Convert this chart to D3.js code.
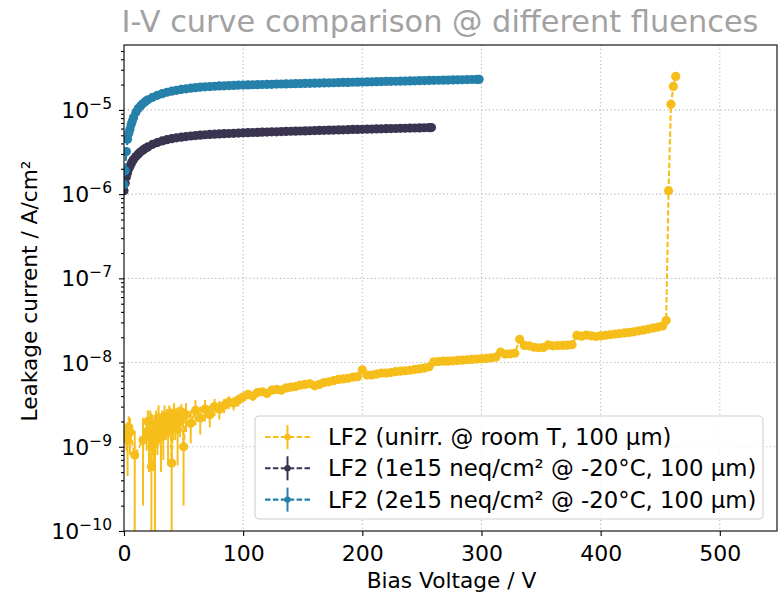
<!DOCTYPE html>
<html>
<head>
<meta charset="utf-8">
<script src="https://cdn.jsdelivr.net/npm/d3@7"></script>
<style>
  body { margin: 0; background: #fff; }
  text { font-family: "DejaVu Sans", sans-serif; }
</style>
</head>
<body>
<div class="chart"></div>
<script>
// LF2 unirradiated, room T  (current in 1e-9 A/cm2)
var unirrV = [2, 3, 4, 5, 9, 16,
  19, 20, 21, 22, 23, 24, 25, 26, 27, 28,
  29, 30, 31, 32, 33, 34, 35, 36, 37, 38,
  39, 40, 41, 42, 43, 44, 45, 46, 47, 48,
  49, 50,
  52, 56, 60, 64, 68, 72, 76, 80, 84, 88,
  92, 96, 100, 104, 108, 112, 116, 120, 124, 128,
  132, 136, 140, 144, 148, 152, 156, 160, 164, 168,
  172, 176, 180, 184, 188, 192, 196, 200, 204, 208,
  212, 216, 220, 224, 228, 232, 236, 240, 244, 248,
  252, 256, 260, 264, 268, 272, 276, 280, 284, 288,
  292, 296, 300, 304, 308, 312, 316, 320, 324, 328,
  332, 336, 340, 344, 348, 352, 356, 360, 364, 368,
  372, 376, 380, 384, 388, 392, 396, 400, 404, 408,
  412, 416, 420, 424, 428, 432, 436, 440, 444, 448,
  452, 455, 457, 459, 461, 463];
var unirrI = [1.4, 1.2, 1.7, 1.5, 0.80, 1.2,
  1.5, 2.0, 1.4, 1.8, 0.58, 1.6, 1.3, 1.1, 1.9, 1.5,
  2.2, 1.7, 1.3, 2.0, 1.6, 2.3, 1.8, 2.1, 1.5, 2.4,
  2.1, 0.64, 1.9, 2.5, 1.8, 2.2, 1.6, 2.4, 2.0, 2.6,
  2.3, 1.0,
  2.4, 1.9, 2.7, 2.2, 2.8, 2.4, 3.0, 2.8, 3.1, 3.4,
  3.3, 3.6, 3.9, 4.2, 4.0, 4.4, 4.5, 4.3, 4.7, 4.8,
  4.7, 5.0, 5.1, 5.2, 5.4, 5.5, 5.6, 5.3, 5.5, 5.8,
  5.9, 6.1, 6.3, 6.4, 6.5, 6.7, 6.8, 8.2, 7.1, 7.1,
  7.3, 7.5, 7.5, 7.6, 7.8, 7.9, 8.0, 8.1, 8.3, 8.4,
  8.6, 8.9, 10.2, 10.3, 10.4, 10.4, 10.5, 10.6, 10.7, 10.8,
  10.9, 11.0, 11.1, 11.2, 11.4, 11.6, 13.3, 12.6, 12.7, 12.9,
  18.9, 16.0, 15.8, 15.2, 15.0, 15.1, 16.2, 15.8, 15.9, 16.0,
  16.1, 16.3, 21.0, 20.6, 21.2, 20.8, 20.4, 20.7, 21.1, 21.4,
  21.8, 22.1, 22.5, 22.8, 23.2, 23.8, 24.3, 25.0, 25.7, 26.4,
  27.2, 31.5, 1100, 11700, 19000, 25000];
// error bars, only the noisy start has visible ones
var unirrErr = [0.5, 0.75, 0.6, 0.7, 0.75, 1.0,
  0.6, 0.7, 0.9, 0.9, 1.9, 0.8, 0.7, 1.3, 0.8, 0.7,
  0.9, 0.6, 0.8, 0.7, 0.9, 0.8, 0.6, 0.7, 0.9, 0.7,
  0.8, 0.62, 0.7, 0.8, 0.6, 0.7, 1.0, 0.6, 0.7, 0.6,
  0.5, 0.8,
  0.9, 0.8, 0.9, 0.8, 0.8, 0.7, 0.7, 0.7, 0.6, 0.6,
  0.6, 0.6, 0.5, 0.5, 0.5, 0.5, 0.4, 0.4, 0.4, 0.4,
  0.4];

// LF2 1e15 neq/cm2 @ -20C  (current in 1e-6 A/cm2)
var f1V = [0, 1, 2, 3, 4, 5, 6, 7, 8, 10, 12, 14, 16, 18, 20,
  24, 28, 32, 36, 40, 44, 48, 52, 56, 60,
  64, 68, 72, 76, 80, 84, 88, 92, 96, 100,
  104, 108, 112, 116, 120, 124, 128, 132, 136, 140,
  144, 148, 152, 156, 160, 164, 168, 172, 176, 180,
  184, 188, 192, 196, 200, 204, 208, 212, 216, 220,
  224, 228, 232, 236, 240, 244, 248, 252, 256, 258];
var f1I = [1.1, 1.35, 1.6, 1.8, 2.0, 2.15, 2.3, 2.45, 2.58, 2.8, 3.0, 3.18, 3.35, 3.5, 3.64,
  3.9, 4.1, 4.28, 4.43, 4.55, 4.66, 4.75, 4.83, 4.9, 4.96,
  5.02, 5.07, 5.11, 5.15, 5.19, 5.22, 5.25, 5.28, 5.31, 5.34,
  5.37, 5.39, 5.41, 5.44, 5.46, 5.49, 5.5, 5.53, 5.55, 5.58,
  5.6, 5.62, 5.63, 5.66, 5.69, 5.71, 5.72, 5.75, 5.77, 5.79,
  5.81, 5.83, 5.86, 5.87, 5.89, 5.91, 5.93, 5.95, 5.97, 5.99,
  6.01, 6.02, 6.04, 6.06, 6.08, 6.1, 6.12, 6.14, 6.16, 6.17];

// LF2 2e15 neq/cm2 @ -20C  (current in 1e-6 A/cm2)
var f2V = [0, 1, 2, 3, 4, 5, 6, 7, 8, 10, 12, 14, 16, 18, 20,
  24, 28, 32, 36, 40, 44, 48, 52, 56, 60,
  64, 68, 72, 76, 80, 84, 88, 92, 96, 100,
  104, 108, 112, 116, 120, 124, 128, 132, 136, 140,
  144, 148, 152, 156, 160, 164, 168, 172, 176, 180,
  184, 188, 192, 196, 200, 204, 208, 212, 216, 220,
  224, 228, 232, 236, 240, 244, 248, 252, 256, 260,
  264, 268, 272, 276, 280, 284, 288, 292, 296, 298];
var f2I = [1.3, 1.9, 3.2, 4.5, 5.3, 5.9, 6.7, 7.4, 8.1, 9.4, 10.4, 11.2, 11.9, 12.6, 13.2,
  14.1, 14.9, 15.6, 16.2, 16.7, 17.1, 17.5, 17.8, 18.1, 18.35,
  18.6, 18.8, 18.95, 19.1, 19.25, 19.35, 19.45, 19.55, 19.65, 19.75,
  19.82, 19.9, 19.96, 20.05, 20.1, 20.16, 20.25, 20.3, 20.36, 20.45,
  20.5, 20.56, 20.64, 20.7, 20.78, 20.83, 20.9, 20.98, 21.03, 21.1,
  21.18, 21.23, 21.3, 21.38, 21.44, 21.5, 21.56, 21.64, 21.7, 21.78,
  21.83, 21.9, 21.97, 22.03, 22.1, 22.18, 22.23, 22.3, 22.38, 22.44,
  22.5, 22.56, 22.64, 22.7, 22.78, 22.83, 22.9, 22.97, 23.04, 23.1];

var seriesNames = ["LF2 (unirr. @ room T, 100 µm)",
  "LF2 (1e15 neq/cm² @ -20°C, 100 µm)",
  "LF2 (2e15 neq/cm² @ -20°C, 100 µm)"];
var seriesColors = ["#f6be1a", "#3a3450", "#2580aa"];
var xTicks = [0, 100, 200, 300, 400, 500];
var yDecades = [-10, -9, -8, -7, -6, -5];

var margin = {top: 45, right: 1, bottom: 62, left: 124},
  width = 778 - margin.left - margin.right,
  height = 593 - margin.top - margin.bottom;
var fs = 22;

var root = d3.select(".chart")
  .append("svg")
    .attr("width", 778)
    .attr("height", 593);

var svg = root.append("g")
    .attr("transform", "translate(" + margin.left + "," + margin.top + ")");

var x = d3.scaleLinear().domain([0, 548]).range([0, width]);
var y = d3.scaleLog().domain([1e-10, 5.9e-5]).range([height, 0]);

// grid
svg.selectAll(".vgrid")
  .data(xTicks.slice(1))
  .enter().append("line")
    .attr("x1", function(d) { return x(d); })
    .attr("x2", function(d) { return x(d); })
    .attr("y1", 0).attr("y2", height)
    .attr("stroke", "#b8b8b8").attr("stroke-width", 1.1)
    .attr("stroke-dasharray", "1.2,2.6");
svg.selectAll(".hgrid")
  .data(yDecades.slice(1))
  .enter().append("line")
    .attr("y1", function(d) { return y(Math.pow(10, d)); })
    .attr("y2", function(d) { return y(Math.pow(10, d)); })
    .attr("x1", 0).attr("x2", width)
    .attr("stroke", "#b8b8b8").attr("stroke-width", 1.1)
    .attr("stroke-dasharray", "1.2,2.6");

// clip for the data
svg.append("clipPath").attr("id", "plotclip")
  .append("rect").attr("width", width).attr("height", height);
var plot = svg.append("g").attr("clip-path", "url(#plotclip)");

function drawSeries(V, I, err, unit, color) {
  var pts = V.map(function(v, i) {
    return {v: v, i: I[i] * unit, e: err && err[i] ? err[i] * unit : 0};
  });
  var g = plot.append("g");
  g.selectAll("line.err")
    .data(pts.filter(function(d) { return d.e > 0; }))
    .enter().append("line")
      .attr("x1", function(d) { return x(d.v); })
      .attr("x2", function(d) { return x(d.v); })
      .attr("y1", function(d) { return y(d.i + d.e); })
      .attr("y2", function(d) { return d.i - d.e > 0 ? y(d.i - d.e) : height + 10; })
      .attr("stroke", color).attr("stroke-width", 2);
  g.append("path")
    .datum(pts)
    .attr("fill", "none")
    .attr("stroke", color)
    .attr("stroke-width", 2.1)
    .attr("stroke-dasharray", "5.5,2.4")
    .attr("d", d3.line()
      .x(function(d) { return x(d.v); })
      .y(function(d) { return y(d.i); }));
  g.selectAll("circle")
    .data(pts)
    .enter().append("circle")
      .attr("cx", function(d) { return x(d.v); })
      .attr("cy", function(d) { return y(d.i); })
      .attr("r", 4.6)
      .attr("fill", color);
}

drawSeries(unirrV, unirrI, unirrErr, 1e-9, seriesColors[0]);
drawSeries(f1V, f1I, null, 1e-6, seriesColors[1]);
drawSeries(f2V, f2I, null, 1e-6, seriesColors[2]);

// X axis
var xAxis = svg.append("g")
  .attr("transform", "translate(0," + height + ")")
  .call(d3.axisBottom(x).tickValues(xTicks).tickSize(5).tickPadding(9));
xAxis.selectAll("text").attr("font-size", fs).attr("fill", "#000")
  .attr("font-family", "DejaVu Sans");
xAxis.select(".domain").remove();

// Y axis: minor ticks then majors with 10^n labels
var minor = [];
yDecades.forEach(function(d) {
  for (var k = 2; k < 10; k++) {
    var t = k * Math.pow(10, d);
    if (t < y.domain()[1]) minor.push(t);
  }
});
var yMinor = svg.append("g")
  .call(d3.axisLeft(y).tickValues(minor).tickSize(3).tickFormat(""));
yMinor.select(".domain").remove();
var yAxis = svg.append("g")
  .call(d3.axisLeft(y).tickValues(yDecades.map(function(d) { return Math.pow(10, d); }))
    .tickSize(5).tickFormat(""));
yAxis.select(".domain").remove();
svg.selectAll(".tick line").attr("stroke", "#000").attr("stroke-width", 1.1);

var ylab = svg.selectAll(".ylab")
  .data(yDecades)
  .enter().append("text")
    .attr("x", -12)
    .attr("y", function(d) { return y(Math.pow(10, d)) + 8; })
    .attr("text-anchor", "end")
    .attr("font-size", fs)
    .attr("fill", "#000");
ylab.append("tspan").text("10");
ylab.append("tspan").attr("font-size", 15.5).attr("dy", -9)
  .text(function(d) { return "\u2212" + (-d); });

// frame
svg.append("rect")
  .attr("width", width).attr("height", height)
  .attr("fill", "none").attr("stroke", "#000").attr("stroke-width", 1.1);

// axis titles
svg.append("text")
  .attr("x", width / 2 + 1)
  .attr("y", height + 57)
  .attr("text-anchor", "middle")
  .attr("font-size", 21.7)
  .text("Bias Voltage / V");
svg.append("text")
  .attr("transform", "rotate(-90)")
  .attr("x", -246)
  .attr("y", -87)
  .attr("text-anchor", "middle")
  .attr("font-size", 21.7)
  .text("Leakage current / A/cm²");

// title
root.append("text")
  .attr("x", 440)
  .attr("y", 32)
  .attr("text-anchor", "middle")
  .attr("font-family", "Lato")
  .attr("font-size", 30.4)
  .attr("fill", "#a2a2a2")
  .text("I-V curve comparison @ different fluences");

// legend
var legend = svg.append("g").attr("transform", "translate(131,371)");
legend.append("rect")
  .attr("width", 508).attr("height", 103).attr("rx", 4)
  .attr("fill", "#fff").attr("fill-opacity", 0.8)
  .attr("stroke", "#d0d0d0").attr("stroke-width", 1.1);
var items = legend.selectAll(".item")
  .data(seriesNames)
  .enter().append("g")
    .attr("transform", function(d, i) { return "translate(0," + (21 + i * 31.3) + ")"; });
items.append("line")
  .attr("x1", 10).attr("x2", 55).attr("y1", 0).attr("y2", 0)
  .attr("stroke", function(d, i) { return seriesColors[i]; })
  .attr("stroke-width", 2.1).attr("stroke-dasharray", "5.5,2.4");
items.append("line")
  .attr("x1", 32.5).attr("x2", 32.5).attr("y1", -12).attr("y2", 12)
  .attr("stroke", function(d, i) { return seriesColors[i]; })
  .attr("stroke-width", 2);
items.append("circle")
  .attr("cx", 32.5).attr("cy", 0).attr("r", 3.2)
  .attr("fill", function(d, i) { return seriesColors[i]; });
items.append("text")
  .attr("x", 73).attr("y", 8)
  .attr("font-size", 22.8)
  .text(function(d) { return d; });
</script>
</body>
</html>
